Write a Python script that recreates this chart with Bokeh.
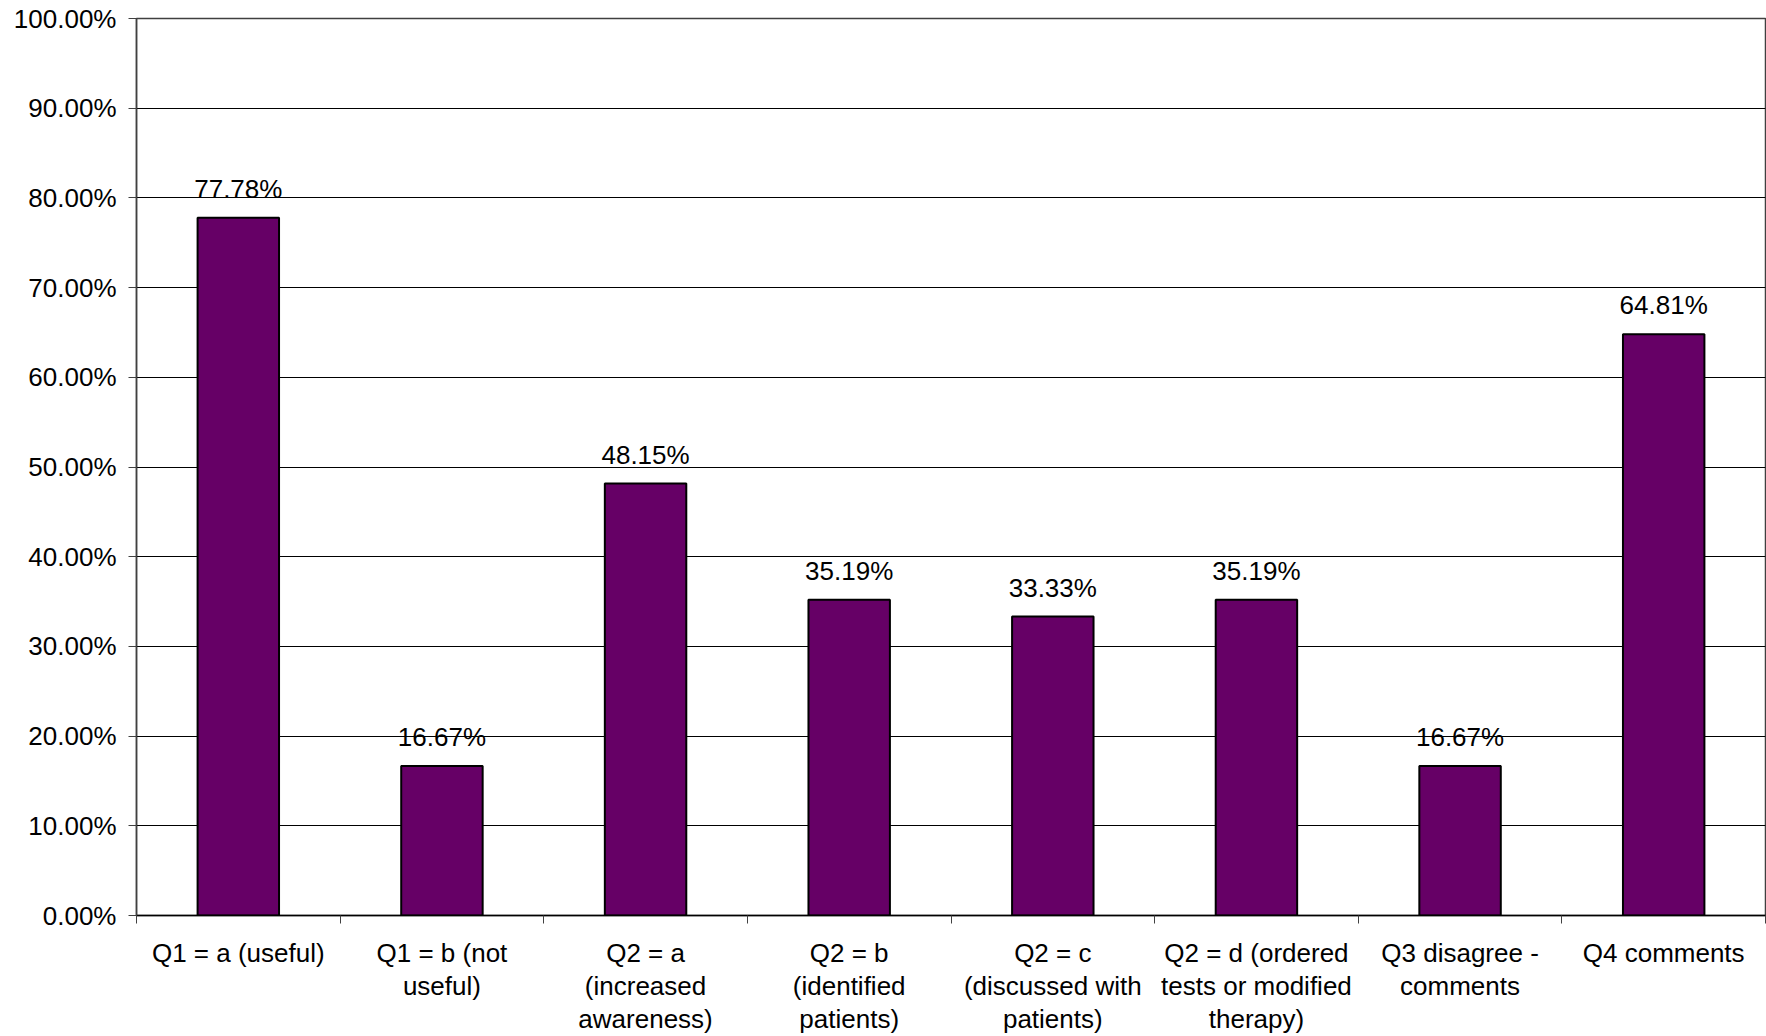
from bokeh.plotting import figure
from bokeh.models import ColumnDataSource, FixedTicker, NumeralTickFormatter, Range1d
from bokeh.embed import file_html
from bokeh.resources import INLINE

categories = [
    "Q1 = a (useful)",
    "Q1 = b (not\nuseful)",
    "Q2 = a\n(increased\nawareness)",
    "Q2 = b\n(identified\npatients)",
    "Q2 = c\n(discussed with\npatients)",
    "Q2 = d (ordered\ntests or modified\ntherapy)",
    "Q3 disagree -\ncomments",
    "Q4 comments",
]
values = [0.7778, 0.1667, 0.4815, 0.3519, 0.3333, 0.3519, 0.1667, 0.6481]
y_ticks = [i / 10 for i in range(11)]

FONT = "Liberation Sans"
n = len(categories)
centers = [i + 0.5 for i in range(n)]
labels = [f"{v*100:.2f}%" for v in values]

src = ColumnDataSource(dict(x=centers, top=values, label=labels))

p = figure(width=1766, height=1036, output_backend="svg", toolbar_location=None,
           x_range=Range1d(0, n), y_range=Range1d(0, 1),
           min_border_left=136, min_border_right=1, min_border_top=18, min_border_bottom=121)

p.vbar(x="x", top="top", width=0.4, bottom=0, source=src,
       fill_color="#660066", line_color="black", line_width=2)

p.text(x="x", y="top", text="label", source=src, text_align="center",
       text_baseline="alphabetic", y_offset=-29,
       text_font={"value": FONT}, text_font_size="26px", text_color="black")

# x axis
p.xaxis.ticker = FixedTicker(ticks=centers, minor_ticks=list(range(n + 1)))
p.xaxis.major_label_overrides = {c: lab for c, lab in zip(centers, categories)}
p.xaxis.major_tick_out = 0
p.xaxis.major_tick_in = 0
p.xaxis.minor_tick_out = 8
p.xaxis.minor_tick_in = 0
p.xaxis.minor_tick_line_color = "#404040"
p.xaxis.axis_line_color = "black"
p.xaxis.axis_line_width = 1.5
p.xaxis.major_label_standoff = 14
p.xaxis.major_label_text_font = FONT
p.xaxis.major_label_text_font_size = "26px"
p.xaxis.major_label_text_color = "black"
p.xaxis.major_label_text_line_height = 1.1
p.xaxis.major_label_orientation = "horizontal"

# y axis
p.yaxis.ticker = FixedTicker(ticks=y_ticks, minor_ticks=[])
p.yaxis.formatter = NumeralTickFormatter(format="0.00%")
p.yaxis.major_tick_out = 8
p.yaxis.major_tick_in = 0
p.yaxis.major_tick_line_color = "#404040"
p.yaxis.axis_line_color = "#404040"
p.yaxis.axis_line_width = 1.5
p.yaxis.major_label_standoff = 12
p.yaxis.major_label_text_font = FONT
p.yaxis.major_label_text_font_size = "26px"
p.yaxis.major_label_text_color = "black"

p.xgrid.visible = False
p.ygrid.grid_line_color = "black"
p.ygrid.grid_line_width = 1
p.outline_line_color = "#404040"
p.outline_line_width = 1.5
p.background_fill_color = "white"
p.border_fill_color = "white"

open("out.html", "w").write(file_html(p, INLINE))
